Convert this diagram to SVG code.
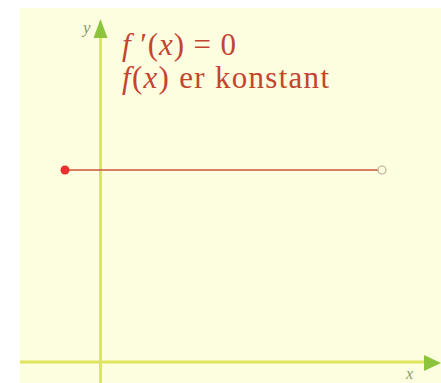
<svg xmlns="http://www.w3.org/2000/svg" width="441" height="383" viewBox="0 0 441 383">
  <defs>
    <style>
      .axis { stroke: #dde65c; stroke-width: 3; fill: none; }
      .head { fill: #8cc43c; }
      .lbl { font-family: "Liberation Serif", serif; font-style: italic; fill: #8a9a6a; }
      .t { font-family: "Liberation Serif", serif; font-size: 31px; fill: #c2452f; }
      .it { font-style: italic; }
    </style>
  </defs>
  <rect x="0" y="0" width="441" height="383" fill="#ffffff"/>
  <rect x="20" y="8" width="421" height="375" fill="#fdfde0"/>
  <g id="connectors">
    <line class="axis" x1="100.5" y1="383" x2="100.5" y2="34"/>
    <polygon class="head" points="100.5,19 93.5,38 107.5,38"/>
    <line class="axis" x1="20" y1="362" x2="428" y2="362"/>
    <polygon class="head" points="441,363 424,355 424,371"/>
  </g>
  <g id="y-label"><text class="lbl" x="83" y="33" font-size="17">y</text></g>
  <g id="x-label"><text class="lbl" x="406" y="379" font-size="16">x</text></g>
  <g id="labels">
    <text class="t" x="122" y="55" textLength="114" lengthAdjust="spacing"><tspan class="it">f</tspan> ′(<tspan class="it">x</tspan>) = 0</text>
    <text class="t" x="122" y="88" textLength="207" lengthAdjust="spacing"><tspan class="it">f</tspan>(<tspan class="it">x</tspan>) er konstant</text>
  </g>
  <g id="graph">
    <line x1="65" y1="170" x2="378" y2="170" stroke="#c9553c" stroke-width="1.5"/>
    <circle cx="65" cy="170" r="4.5" fill="#e8302e"/>
    <circle cx="382" cy="170" r="4" fill="#fdfde0" stroke="#b8ad98" stroke-width="1.2"/>
  </g>
</svg>
